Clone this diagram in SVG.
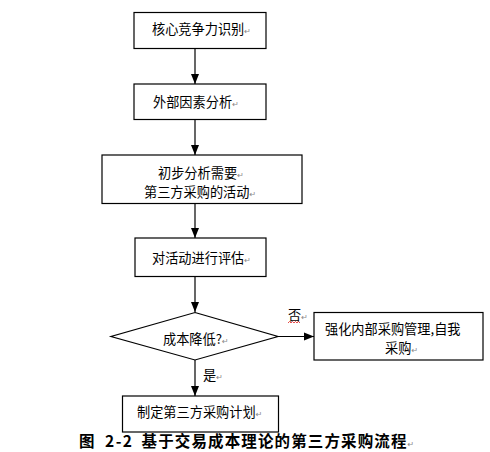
<svg xmlns="http://www.w3.org/2000/svg" width="490" height="452" viewBox="0 0 490 452">
<style>
.box{fill:#fff;stroke:#000;stroke-width:1.2}
.t{font-family:"Noto Sans CJK SC","Liberation Sans",sans-serif;font-size:13.2px;fill:#000}
.pm{font-family:"DejaVu Sans",sans-serif;font-size:8px;fill:#888}
.c{stroke:#000;stroke-width:1.2;fill:none}
.cap{font-family:"Noto Sans CJK SC","Liberation Serif",serif;font-size:15.5px;font-weight:bold;fill:#000}
</style>
<defs>
<marker id="ah" markerUnits="userSpaceOnUse" markerWidth="10" markerHeight="10" viewBox="0 0 10 10" refX="10" refY="5" orient="auto">
<path d="M0,1 L10,5 L0,9 Z" fill="#000"/>
</marker>
</defs>
<rect width="490" height="452" fill="#fff"/>
<g id="connectors">
<line class="c" x1="195" y1="48.5" x2="195" y2="84" marker-end="url(#ah)"/>
<line class="c" x1="195" y1="119.5" x2="195" y2="155" marker-end="url(#ah)"/>
<line class="c" x1="195" y1="203.5" x2="195" y2="238" marker-end="url(#ah)"/>
<line class="c" x1="195" y1="276.5" x2="195" y2="312" marker-end="url(#ah)"/>
<line class="c" x1="195" y1="360" x2="195" y2="396" marker-end="url(#ah)"/>
<line class="c" x1="278" y1="336.5" x2="314" y2="336.5" marker-end="url(#ah)"/>
<text class="t" x="288" y="320">否<tspan class="pm">↵</tspan></text>
<path d="M288,323 l1.5,-1.5 l1.5,1.5 l1.5,-1.5 l1.5,1.5 l1.5,-1.5 l1.5,1.5 l1.5,-1.5 l1.5,1.5" fill="none" stroke="#e02020" stroke-width="0.8"/>
<text class="t" x="203" y="380">是<tspan class="pm">↵</tspan></text>
</g>
<g id="n1">
<rect class="box" x="134" y="12.5" width="132" height="36"/>
<text class="t" x="152" y="34">核心竞争力识别<tspan class="pm">↵</tspan></text>
</g>
<g id="n2">
<rect class="box" x="134" y="84" width="132" height="35.5"/>
<text class="t" x="153" y="107">外部因素分析<tspan class="pm">↵</tspan></text>
</g>
<g id="n3">
<rect class="box" x="102" y="155" width="200" height="48.5"/>
<text class="t" x="158" y="177.5">初步分析需要<tspan class="pm">↵</tspan></text>
<text class="t" x="144" y="196.5">第三方采购的活动<tspan class="pm">↵</tspan></text>
</g>
<g id="n4">
<rect class="box" x="135" y="238" width="131" height="38.5"/>
<text class="t" x="152" y="263">对活动进行评估<tspan class="pm">↵</tspan></text>
</g>
<g id="n5">
<polygon class="box" points="195,312.5 278,336.5 195,360 111,336.5"/>
<text class="t" x="163" y="344">成本降低?<tspan class="pm">↵</tspan></text>
</g>
<g id="n6">
<rect class="box" x="314" y="312.5" width="169" height="47.5"/>
<text class="t" x="325" y="333.5">强化内部采购管理,自我</text>
<text class="t" x="385" y="352.5">采购<tspan class="pm">↵</tspan></text>
</g>
<g id="n7">
<rect class="box" x="122.5" y="396" width="156" height="36"/>
<text class="t" x="137" y="417">制定第三方采购计划<tspan class="pm">↵</tspan></text>
</g>
<g id="caption">
<text class="cap" y="446.5"><tspan x="79">图</tspan><tspan x="105" textLength="27" lengthAdjust="spacing">2-2</tspan><tspan x="141.5" textLength="265" lengthAdjust="spacing">基于交易成本理论的第三方采购流程</tspan><tspan class="pm" font-weight="normal">↵</tspan></text>
</g>
</svg>
